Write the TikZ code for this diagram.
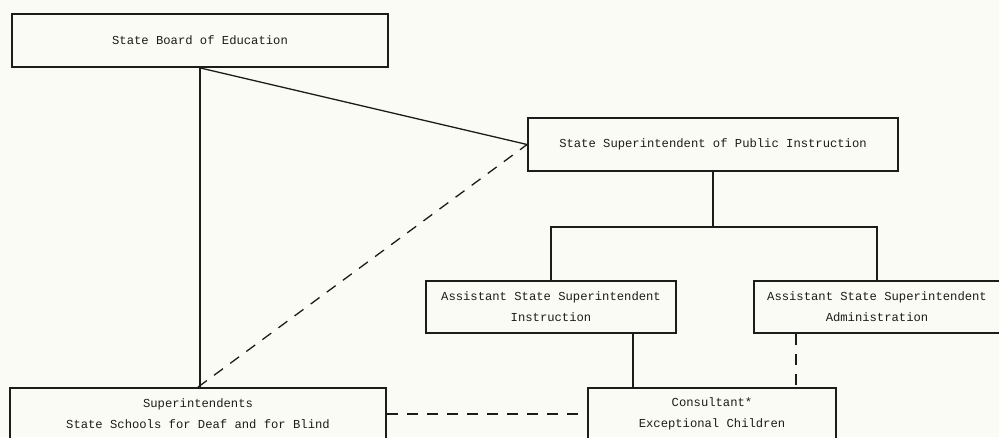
\documentclass[tikz,border=0pt]{standalone}
\usepackage{fontspec}
\setmonofont{Liberation Mono}
\definecolor{paper}{RGB}{251,251,245}
\definecolor{ink}{RGB}{30,28,26}
\begin{document}
\begin{tikzpicture}[x=1pt,y=-1pt,
  box/.style={draw=ink, line width=1.8pt, rectangle, inner sep=0pt, align=center,
    font=\ttfamily\fontsize{12.2}{21}\selectfont, text=ink},
  link/.style={draw=ink, line width=1.3pt},
  dlink/.style={link, dash pattern=on 11pt off 9pt}]
\fill[paper] (0,0) rectangle (999,437);
\useasboundingbox (0,0) rectangle (999,437);
\clip (0,0) rectangle (999,437);
\node[box, minimum width=376, minimum height=53] (board) at (200,40.5) {State Board of Education};
\node[box, minimum width=370, minimum height=53] (sspi) at (713,144.5) {State Superintendent of Public Instruction};
\node[box, minimum width=250, minimum height=52] (asi) at (551,307) {Assistant State Superintendent\\Instruction};
\node[box, minimum width=246, minimum height=52] (asa) at (877,307) {Assistant State Superintendent\\Administration};
\node[box, minimum width=376, minimum height=52] (supts) at (198,414) {Superintendents\\State Schools for Deaf and for Blind};
\node[box, minimum width=248, minimum height=52] (cons) at (712,414) {Consultant*\\Exceptional Children};
\coordinate (bus) at (713,227);
\draw[link] (board.south) -- (board.south |- supts.north);
\draw[link] (board.south) -- (sspi.west);
\draw[dlink] (supts.north) -- (sspi.west);
\draw[link] (sspi.south) -- (bus);
\draw[link] (asi.north) |- (bus) -| (asa.north);
\draw[link] ([xshift=82]asi.south) -- ([xshift=82]asi.south |- cons.north);
\draw[dlink] ([xshift=-81]asa.south) -- ([xshift=-81]asa.south |- cons.north);
\draw[dlink] (supts.east) -- (cons.west);
\end{tikzpicture}
\end{document}
